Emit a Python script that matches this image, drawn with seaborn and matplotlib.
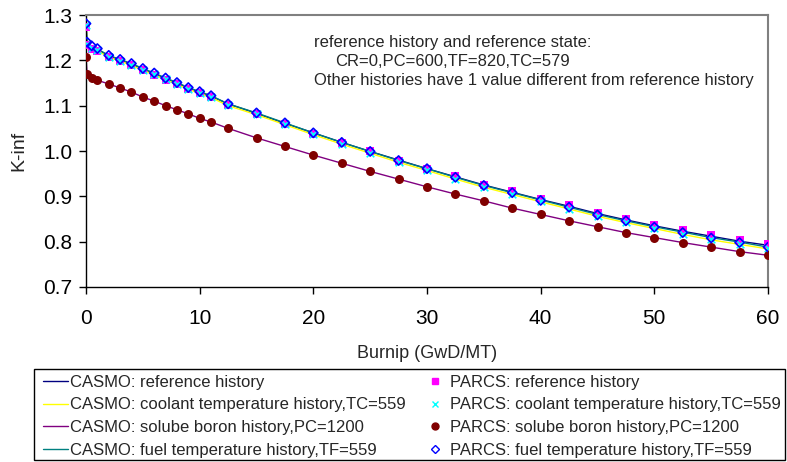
import matplotlib
matplotlib.use("Agg")
import matplotlib.pyplot as plt
import seaborn as sns
import numpy as np
import pandas as pd
from matplotlib.lines import Line2D
from matplotlib.patches import Rectangle

burnup = [0, 0.1, 0.5, 1, 2, 3, 4, 5, 6, 7, 8, 9, 10, 11, 12.5, 15, 17.5, 20, 22.5,
          25, 27.5, 30, 32.5, 35, 37.5, 40, 42.5, 45, 47.5, 50, 52.5, 55, 57.5, 60]

casmo_ref = [1.279, 1.238, 1.230, 1.224, 1.210, 1.201, 1.192, 1.181, 1.171, 1.160, 1.150,
             1.139, 1.130, 1.121, 1.104, 1.083, 1.061, 1.040, 1.019, 0.999, 0.980, 0.961,
             0.943, 0.925, 0.909, 0.893, 0.878, 0.862, 0.848, 0.835, 0.823, 0.812, 0.801, 0.792]
casmo_cool = [1.276, 1.235, 1.227, 1.221, 1.207, 1.198, 1.189, 1.178, 1.168, 1.157, 1.147,
              1.136, 1.127, 1.118, 1.100, 1.080, 1.058, 1.036, 1.015, 0.995, 0.975, 0.957,
              0.938, 0.920, 0.904, 0.888, 0.872, 0.856, 0.842, 0.829, 0.816, 0.804, 0.794, 0.784]
casmo_boron = [1.207, 1.169, 1.161, 1.156, 1.148, 1.139, 1.130, 1.119, 1.110, 1.100, 1.091,
               1.082, 1.072, 1.064, 1.050, 1.029, 1.010, 0.991, 0.973, 0.955, 0.938, 0.921,
               0.905, 0.890, 0.874, 0.860, 0.846, 0.833, 0.820, 0.809, 0.798, 0.788, 0.778, 0.770]
casmo_fuel = [1.280, 1.239, 1.231, 1.225, 1.211, 1.202, 1.193, 1.182, 1.172, 1.161, 1.151,
              1.140, 1.131, 1.122, 1.104, 1.084, 1.062, 1.040, 1.019, 0.999, 0.979, 0.961,
              0.942, 0.924, 0.908, 0.892, 0.876, 0.860, 0.846, 0.833, 0.821, 0.809, 0.799, 0.788]

parcs_ref = [1.274, 1.234, 1.226, 1.220, 1.207, 1.198, 1.189, 1.178, 1.168, 1.157, 1.147,
             1.137, 1.128, 1.119, 1.101, 1.081, 1.060, 1.038, 1.018, 0.999, 0.979, 0.961,
             0.944, 0.926, 0.911, 0.895, 0.880, 0.864, 0.850, 0.837, 0.825, 0.814, 0.804, 0.794]
parcs_cool = [1.277, 1.236, 1.228, 1.222, 1.208, 1.199, 1.190, 1.179, 1.169, 1.158, 1.148,
              1.137, 1.128, 1.119, 1.101, 1.081, 1.059, 1.037, 1.016, 0.996, 0.976, 0.958,
              0.939, 0.921, 0.905, 0.889, 0.873, 0.857, 0.843, 0.830, 0.817, 0.805, 0.795, 0.785]
parcs_boron = casmo_boron
parcs_fuel = [1.281, 1.240, 1.232, 1.226, 1.211, 1.202, 1.193, 1.182, 1.172, 1.161, 1.151,
              1.140, 1.131, 1.122, 1.104, 1.084, 1.062, 1.040, 1.019, 0.999, 0.979, 0.961,
              0.942, 0.924, 0.908, 0.891, 0.876, 0.859, 0.846, 0.832, 0.820, 0.808, 0.798, 0.788]

casmo_labels = ["CASMO: reference history",
                "CASMO: coolant temperature history,TC=559",
                "CASMO: solube boron history,PC=1200",
                "CASMO: fuel temperature history,TF=559"]
parcs_labels = ["PARCS: reference history",
                "PARCS: coolant temperature history,TC=559",
                "PARCS: solube boron history,PC=1200",
                "PARCS: fuel temperature history,TF=559"]

sns.set_theme(style="white")
plt.rcParams['font.family'] = ['Liberation Sans', 'DejaVu Sans']

W, H = 787, 462
fig = plt.figure(figsize=(W/100, H/100), dpi=100)
ax = fig.add_axes([86/W, 1-287/H, (768-86)/W, (287-15)/H])

line_colors = ["#000080", "#FFFF00", "#800080", "#008080"]
casmo_series = [casmo_ref, casmo_cool, casmo_boron, casmo_fuel]
for vals, col in zip(casmo_series, line_colors):
    sns.lineplot(x=burnup, y=vals, color=col, linewidth=1.0, estimator=None,
                 sort=False, ax=ax, legend=False)

sns.scatterplot(x=burnup, y=parcs_ref, marker='s', color="#FF00FF", s=30,
                edgecolor="#FF00FF", linewidth=0, ax=ax, legend=False, zorder=3)
sns.scatterplot(x=burnup, y=parcs_cool, marker='x', color="#00FFFF", s=30,
                linewidth=1.2, ax=ax, legend=False, zorder=4)
sns.scatterplot(x=burnup, y=parcs_boron, marker='o', color="#800000", s=42,
                edgecolor="#800000", linewidth=0, ax=ax, legend=False, zorder=4)
ax.scatter(burnup, parcs_fuel, marker='D', facecolors='none', edgecolors="#0000FF",
           s=22, linewidths=1.2, zorder=5)

ax.set_xlim(0, 60)
ax.set_ylim(0.7, 1.3)
ax.set_xticks(np.arange(0, 61, 10))
yt = np.arange(0.7, 1.31, 0.1)
ax.set_yticks(yt)
ax.set_yticklabels([f"{v:.1f}" for v in yt])
ax.tick_params(axis='both', which='both', direction='out', length=5, width=1,
               labelsize=15, left=True, bottom=True, colors='black', pad=5)
ax.tick_params(axis='x', pad=11)
ax.set_xlabel("Burnip (GwD/MT)", fontsize=13, labelpad=12)
ax.set_ylabel("K-inf", fontsize=14, labelpad=11)
for side in ['left', 'bottom']:
    ax.spines[side].set_color('black')
    ax.spines[side].set_linewidth(1.0)
for side in ['top', 'right']:
    ax.spines[side].set_color('#808080')
    ax.spines[side].set_linewidth(1.5)

ax.text(0.335, 0.9, "reference history and reference state:", transform=ax.transAxes,
        fontsize=12, va='center')
ax.text(0.366, 0.828, "CR=0,PC=600,TF=820,TC=579", transform=ax.transAxes,
        fontsize=12, va='center')
ax.text(0.335, 0.758, "Other histories have 1 value different from reference history",
        transform=ax.transAxes, fontsize=12, va='center')

# legend box
fig.add_artist(Rectangle((34/W, 1-460/H), (785-34)/W, (460-369)/H,
                         transform=fig.transFigure, fill=False, edgecolor='black',
                         linewidth=1.0))

h_left = [Line2D([], [], color=c, lw=1.0) for c in line_colors]
h_right = [
    Line2D([], [], ls='none', marker='s', color="#FF00FF", markersize=5),
    Line2D([], [], ls='none', marker='x', color="#00FFFF", markersize=5, mew=1.0),
    Line2D([], [], ls='none', marker='o', color="#800000", markersize=5),
    Line2D([], [], ls='none', marker='D', mfc='none', mec="#0000FF", markersize=4, mew=1.0),
]
leg_kw = dict(loc='upper left', fontsize=12, frameon=False, borderaxespad=0,
              borderpad=0, labelspacing=0.45)
leg1 = fig.legend(h_left, casmo_labels, bbox_to_anchor=(43/W, 1-375/H),
                  handlelength=1.5, handletextpad=0.12, **leg_kw)
leg2 = fig.legend(h_right, parcs_labels, bbox_to_anchor=(428/W, 1-375/H),
                  handlelength=0.85, handletextpad=0.5, **leg_kw)

fig.savefig("out.png", dpi=100)
